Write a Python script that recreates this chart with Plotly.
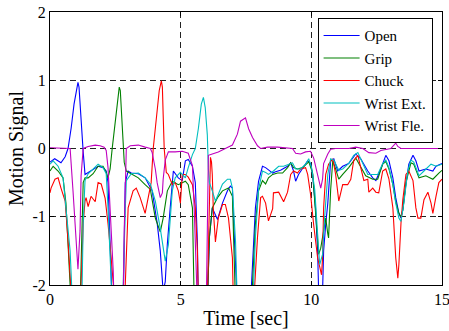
import plotly.graph_objects as go

# ---- data ----
open_t = [0.0, 0.18, 0.42, 0.58, 0.69, 0.81, 0.92, 1.04, 1.07, 1.11, 1.17, 1.23, 1.27, 1.34, 1.46, 1.65, 1.84, 2.03, 2.15, 2.22, 2.30, 2.38, 2.80, 2.84, 2.88, 2.99, 3.11, 3.38, 3.57, 3.64, 3.91, 4.10, 4.22, 4.33, 4.41, 4.49, 4.60, 4.68, 4.72, 4.91, 5.06, 5.18, 5.29, 5.45, 5.56, 5.64, 5.68, 6.02, 6.10, 6.21, 6.41, 6.60, 6.79, 6.90, 6.98, 7.02, 7.10, 7.17, 7.67, 7.71, 7.86, 7.98, 8.13, 8.25, 8.52, 8.63, 8.82, 9.09, 9.21, 9.32, 9.40, 9.51, 9.67, 9.86, 9.97, 10.05, 10.16, 10.24, 10.28, 10.36, 10.43, 10.47, 10.55, 10.63, 10.74, 10.86, 11.01, 11.20, 11.43, 11.70, 11.89, 12.16, 12.35, 12.47, 12.66, 12.85, 12.97, 13.12, 13.23, 13.35, 13.43, 13.50, 13.62, 13.73, 13.89, 14.00, 14.12, 14.38, 14.65, 14.77, 15.0]
open_y = [-0.20, -0.15, -0.21, -0.12, 0.0, 0.30, 0.65, 0.95, 0.97, 0.90, 0.50, 0.10, -0.05, -0.38, -0.35, -0.30, -0.26, -0.28, -0.33, -0.50, -1.20, -2.30, -2.30, -1.20, -0.50, -0.33, -0.36, -0.37, -0.42, -0.43, -0.62, -1.09, -1.50, -2.10, -1.95, -1.40, -0.87, -0.43, -0.33, -0.43, -0.47, -0.18, -0.16, -0.26, -0.50, -1.37, -2.30, -2.30, -1.30, -0.87, -1.04, -0.80, -0.62, -0.55, -0.58, -1.00, -1.80, -2.30, -2.30, -2.00, -0.87, -0.48, -0.26, -0.28, -0.36, -0.34, -0.32, -0.26, -0.21, -0.33, -0.48, -0.38, -0.28, -0.18, -0.22, -0.38, -0.87, -1.50, -2.10, -2.30, -2.10, -1.50, -1.11, -0.80, -0.18, -0.15, -0.33, -0.26, -0.22, -0.08, -0.15, -0.33, -0.43, -0.47, -0.30, -0.10, -0.18, -0.43, -0.72, -0.95, -1.02, -0.90, -0.52, -0.23, -0.10, -0.18, -0.33, -0.30, -0.33, -0.26, -0.22]

grip_t = [0.0, 0.12, 0.31, 0.50, 0.61, 0.73, 0.81, 1.15, 1.23, 1.27, 1.34, 1.46, 1.65, 1.84, 2.03, 2.15, 2.22, 2.30, 2.38, 2.49, 2.61, 2.65, 2.69, 2.76, 2.80, 2.84, 2.92, 3.11, 3.38, 3.64, 3.84, 4.03, 4.22, 4.33, 4.49, 4.68, 4.91, 5.18, 5.29, 5.45, 5.49, 5.52, 6.02, 6.10, 6.21, 6.41, 6.60, 6.83, 6.98, 7.02, 7.10, 7.71, 7.75, 7.86, 7.98, 8.13, 8.25, 8.36, 8.52, 8.71, 8.90, 9.09, 9.21, 9.32, 9.47, 9.67, 9.86, 9.90, 10.05, 10.16, 10.24, 10.28, 10.36, 10.43, 10.55, 10.63, 10.66, 10.74, 10.82, 10.93, 11.05, 11.20, 11.43, 11.70, 11.89, 12.08, 12.35, 12.54, 12.73, 12.85, 12.97, 13.12, 13.23, 13.35, 13.43, 13.50, 13.62, 13.81, 13.92, 14.12, 14.38, 14.65, 14.88, 15.0]
grip_y = [-0.33, -0.26, -0.33, -0.43, -0.80, -1.60, -2.30, -2.30, -1.20, -0.50, -0.43, -0.43, -0.37, -0.26, -0.26, -0.35, -0.43, -0.30, 0.0, 0.40, 0.85, 0.90, 0.85, 0.35, 0.0, -0.20, -0.33, -0.37, -0.43, -0.53, -0.60, -1.02, -1.22, -1.02, -0.62, -0.48, -0.53, -0.48, -0.53, -0.87, -1.37, -2.30, -2.30, -1.30, -0.87, -0.72, -0.62, -0.58, -0.70, -1.30, -2.30, -2.30, -2.00, -1.10, -0.62, -0.47, -0.52, -0.43, -0.38, -0.36, -0.36, -0.28, -0.21, -0.28, -0.30, -0.28, -0.21, -0.19, -0.36, -0.87, -1.37, -1.55, -1.46, -1.30, -1.02, -1.25, -1.31, -0.60, -0.18, -0.30, -0.45, -0.38, -0.28, -0.14, -0.26, -0.40, -0.45, -0.45, -0.23, -0.19, -0.30, -0.53, -0.78, -0.95, -1.00, -0.90, -0.50, -0.21, -0.23, -0.43, -0.40, -0.45, -0.36, -0.32]

chuck_t = [0.0, 0.04, 0.19, 0.31, 0.42, 0.58, 0.69, 0.81, 0.84, 1.15, 1.19, 1.27, 1.34, 1.38, 1.46, 1.57, 1.73, 1.84, 1.96, 2.11, 2.22, 2.34, 2.45, 2.49, 2.84, 2.88, 2.99, 3.18, 3.30, 3.45, 3.64, 3.76, 3.87, 3.95, 4.07, 4.18, 4.26, 4.30, 4.33, 4.37, 4.45, 4.53, 4.68, 4.79, 4.91, 4.99, 5.06, 5.18, 5.29, 5.45, 5.56, 5.64, 5.68, 6.02, 6.06, 6.10, 6.14, 6.18, 6.21, 6.25, 6.33, 6.44, 6.60, 6.71, 6.83, 6.98, 7.02, 7.79, 7.83, 7.94, 8.06, 8.13, 8.25, 8.36, 8.52, 8.55, 8.75, 8.90, 8.94, 9.09, 9.21, 9.32, 9.47, 9.59, 9.78, 9.86, 9.97, 10.09, 10.24, 10.39, 10.43, 10.47, 10.55, 10.66, 10.82, 10.93, 11.05, 11.20, 11.39, 11.51, 11.62, 11.78, 11.89, 12.01, 12.16, 12.20, 12.35, 12.47, 12.58, 12.73, 12.85, 12.97, 13.12, 13.16, 13.23, 13.31, 13.35, 13.43, 13.50, 13.62, 13.73, 13.89, 14.00, 14.08, 14.19, 14.31, 14.46, 14.58, 14.65, 14.77, 14.88, 15.0]
chuck_y = [-0.65, -0.58, -0.45, -0.43, -0.58, -0.77, -1.35, -2.10, -2.30, -2.30, -2.00, -1.10, -0.77, -0.72, -0.85, -0.70, -0.78, -0.50, -0.52, -0.73, -1.10, -1.60, -2.10, -2.30, -2.30, -2.00, -0.87, -0.62, -0.58, -0.72, -0.95, -0.70, -0.50, 0.0, 0.50, 0.85, 0.99, 0.90, 0.50, 0.0, -0.35, -0.38, -0.53, -0.50, -0.62, -0.80, -0.38, -0.38, -0.42, -0.53, -0.87, -1.50, -2.30, -2.30, -1.50, -0.60, -0.13, -0.20, -0.38, -0.90, -1.37, -1.02, -0.82, -0.82, -1.02, -1.60, -2.30, -2.30, -2.00, -1.30, -0.72, -0.70, -0.80, -1.06, -0.88, -0.65, -0.64, -0.76, -0.78, -0.64, -0.38, -0.33, -0.36, -0.30, -0.28, -0.38, -0.67, -1.12, -1.60, -1.85, -1.60, -0.87, -0.38, -0.23, -0.15, -0.38, -0.77, -0.53, -0.53, -0.45, -0.18, -0.10, -0.28, -0.47, -0.45, -0.64, -0.58, -0.64, -0.65, -0.33, -0.30, -0.45, -0.87, -1.22, -1.60, -1.90, -1.70, -1.10, -0.75, -0.38, -0.33, -0.47, -0.87, -1.02, -1.02, -0.75, -0.64, -0.80, -0.95, -0.70, -0.50, -0.45]

wext_t = [0.0, 0.12, 0.31, 0.50, 0.61, 0.77, 0.84, 0.88, 1.19, 1.23, 1.27, 1.34, 1.46, 1.73, 1.84, 2.03, 2.15, 2.22, 2.30, 2.34, 2.38, 2.76, 2.80, 2.88, 2.92, 3.11, 3.38, 3.64, 3.84, 4.03, 4.22, 4.41, 4.53, 4.68, 4.79, 4.99, 5.10, 5.18, 5.29, 5.45, 5.56, 5.68, 5.79, 5.87, 5.94, 6.02, 6.06, 6.10, 6.21, 6.33, 6.44, 6.60, 6.79, 6.90, 6.98, 7.10, 7.17, 7.71, 7.79, 7.86, 7.98, 8.13, 8.25, 8.36, 8.55, 8.75, 8.94, 9.13, 9.28, 9.40, 9.59, 9.78, 9.90, 10.01, 10.13, 10.24, 10.32, 10.43, 10.51, 10.63, 10.74, 10.86, 11.05, 11.20, 11.43, 11.62, 11.78, 11.97, 12.16, 12.35, 12.54, 12.73, 12.85, 12.97, 13.12, 13.23, 13.35, 13.43, 13.54, 13.69, 13.81, 13.92, 14.12, 14.31, 14.58, 14.77, 15.0]
wext_y = [-0.23, -0.18, -0.26, -0.43, -0.87, -1.50, -2.10, -2.30, -2.30, -2.00, -1.10, -0.47, -0.37, -0.28, -0.23, -0.28, -0.37, -0.87, -1.60, -2.10, -2.30, -2.30, -2.00, -0.90, -0.47, -0.37, -0.36, -0.43, -0.52, -0.77, -1.17, -1.65, -1.41, -0.62, -0.43, -0.35, -0.40, -0.43, -0.28, -0.09, 0.0, 0.30, 0.65, 0.75, 0.60, 0.20, -0.30, -0.50, -0.62, -0.77, -0.67, -0.52, -0.45, -0.45, -0.58, -1.37, -2.30, -2.30, -2.00, -1.30, -0.60, -0.33, -0.35, -0.38, -0.33, -0.26, -0.26, -0.23, -0.21, -0.30, -0.30, -0.23, -0.15, -0.28, -0.60, -1.25, -1.70, -1.55, -1.00, -0.38, -0.15, -0.17, -0.32, -0.30, -0.22, -0.10, -0.06, -0.22, -0.38, -0.38, -0.38, -0.22, -0.17, -0.28, -0.53, -0.80, -1.02, -1.07, -0.80, -0.33, -0.17, -0.20, -0.40, -0.33, -0.23, -0.26, -0.23]

wfle_t = [0.0, 0.69, 0.77, 0.88, 1.00, 1.07, 1.15, 1.19, 1.27, 1.46, 1.73, 1.92, 2.07, 2.15, 2.22, 2.34, 2.42, 2.45, 2.80, 2.84, 2.88, 2.92, 3.07, 3.38, 3.64, 3.84, 3.91, 4.03, 4.10, 4.22, 4.30, 4.33, 4.41, 4.53, 4.79, 5.06, 5.29, 5.45, 5.52, 5.60, 5.64, 5.98, 6.02, 6.06, 6.21, 6.44, 6.71, 6.98, 7.17, 7.29, 7.48, 7.60, 7.75, 7.94, 8.06, 8.32, 8.71, 9.01, 9.28, 9.40, 9.59, 9.78, 9.97, 10.09, 10.28, 10.36, 10.43, 10.47, 10.63, 10.74, 10.93, 11.43, 11.70, 11.97, 12.20, 12.47, 12.66, 12.85, 13.04, 13.23, 13.31, 13.43, 15.0]
wfle_y = [0.01, 0.01, 0.0, -0.62, -1.35, -1.77, -1.20, -0.40, 0.0, 0.03, 0.05, 0.04, 0.02, -0.03, -0.28, -1.10, -1.80, -2.30, -2.30, -1.20, -0.40, 0.0, 0.04, 0.05, 0.02, 0.0, -0.06, -0.30, -0.50, -0.72, -0.65, -0.45, -0.17, -0.05, -0.05, -0.04, -0.07, -0.25, -0.90, -1.80, -2.30, -2.30, -1.00, -0.10, -0.08, -0.05, 0.0, 0.05, 0.21, 0.40, 0.45, 0.29, 0.16, 0.04, 0.0, 0.02, 0.02, 0.01, 0.0, -0.07, -0.08, -0.05, -0.04, -0.14, -0.47, -0.58, -0.45, -0.22, -0.08, -0.01, 0.0, 0.0, 0.02, 0.0, -0.06, -0.07, -0.03, -0.01, 0.0, 0.08, 0.03, 0.0, 0.0]

series_names = ["Open", "Grip", "Chuck", "Wrist Ext.", "Wrist Fle."]
series_colors = ["#0000FF", "#008000", "#FF0000", "#00BFBF", "#BF00BF"]
x_ticks = [0, 5, 10, 15]
x_ticktext = ["0", "5", "10", "15"]
y_ticks = [-2, -1, 0, 1, 2]
y_ticktext = ["-2", "-1", "0", "1", "2"]

series = [(open_t, open_y), (grip_t, grip_y), (chuck_t, chuck_y), (wext_t, wext_y), (wfle_t, wfle_y)]

FONT = "Liberation Serif, Times New Roman, serif"

fig = go.Figure()
for (t, y), name, color in zip(series, series_names, series_colors):
    fig.add_trace(go.Scatter(x=t, y=y, mode="lines", name=name,
                             line=dict(color=color, width=1.1)))

axis_common = dict(
    showline=True, linecolor="black", linewidth=1, mirror="ticks",
    ticks="inside", ticklen=4, tickcolor="black",
    showgrid=True, gridcolor="#222222", gridwidth=1, griddash="6px,4px",
    zeroline=False, tickfont=dict(family=FONT, size=16, color="black"),
    ticklabeloverflow="allow",
)

fig.update_xaxes(range=[0, 15], tickvals=x_ticks, ticktext=x_ticktext,
                 title=dict(text="Time [sec]", font=dict(family=FONT, size=20, color="black"), standoff=3),
                 **axis_common)
fig.update_yaxes(range=[-2, 2], tickvals=y_ticks, ticktext=y_ticktext,
                 title=dict(text="Motion Signal", font=dict(family=FONT, size=20, color="black"), standoff=3),
                 **axis_common)

fig.update_layout(
    width=449, height=331,
    margin=dict(l=50, r=7, t=12, b=46, autoexpand=False),
    paper_bgcolor="white", plot_bgcolor="white",
    font=dict(family=FONT, color="black"),
    legend=dict(x=0.976, y=0.977, xanchor="right", yanchor="top",
                bgcolor="white", bordercolor="black", borderwidth=1,
                font=dict(family=FONT, size=15, color="black"),
                tracegroupgap=0, itemwidth=36),
    showlegend=True,
)

fig.write_html("out.html", post_script="document.body.style.margin='0';",
               config={"displayModeBar": False, "staticPlot": True})
